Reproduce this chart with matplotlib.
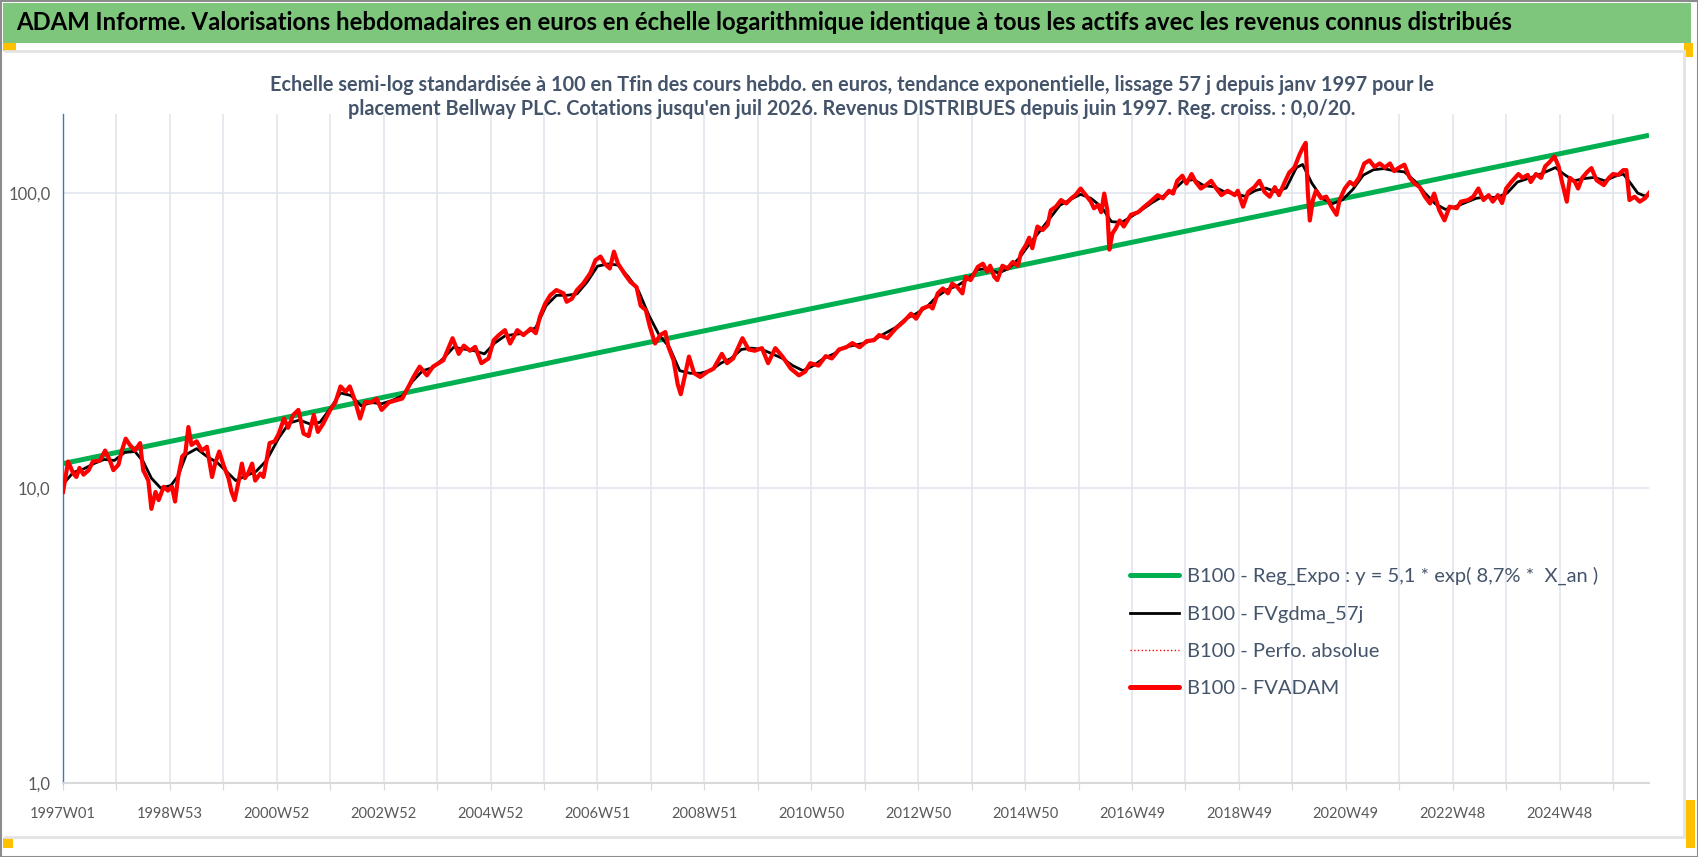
import matplotlib
matplotlib.use('Agg')
import matplotlib.pyplot as plt
from matplotlib.patches import Rectangle
from matplotlib.lines import Line2D

# semaines depuis 1997W01 / valeurs base 100
semaines_fvadam = [0, 5, 10, 13, 16, 20, 25, 29, 36, 41, 46, 49, 54, 57, 61, 65, 70, 75, 78, 83,
                   86, 90, 93, 98, 102, 106, 109, 112, 116, 119, 122, 125, 130, 135, 140, 145, 148, 152, 156, 161,
                   164, 167, 171, 174, 177, 180, 184, 187, 192, 195, 198, 201, 206, 210, 215, 219, 224, 229, 234, 239,
                   244, 248, 253, 260, 265, 270, 275, 279, 284, 289, 294, 300, 305, 310, 317, 323, 330, 336, 341, 347,
                   354, 360, 370, 379, 385, 390, 396, 401, 407, 414, 419, 424, 430, 435, 442, 448, 455, 460, 464, 469,
                   474, 480, 487, 490, 495, 500, 506, 513, 518, 523, 527, 532, 536, 540, 547, 552, 558, 562, 567, 571,
                   576, 581, 586, 589, 594, 598, 601, 605, 609, 614, 620, 627, 633, 641, 646, 652, 661, 667, 673, 680,
                   686, 693, 700, 708, 716, 722, 727, 735, 742, 748, 755, 762, 768, 775, 782, 789, 794, 802, 810, 818,
                   825, 830, 836, 843, 846, 851, 856, 861, 865, 870, 875, 878, 883, 890, 895, 899, 902, 906, 909, 914,
                   919, 924, 929, 932, 937, 940, 943, 948, 953, 958, 961, 966, 971, 976, 981, 985, 990, 995, 1000, 1003,
                   1007, 1010, 1013, 1016, 1018, 1021, 1024, 1028, 1032, 1039, 1046, 1052, 1058, 1065, 1070, 1076, 1080, 1084, 1089, 1093,
                   1098, 1102, 1107, 1112, 1117, 1122, 1127, 1133, 1140, 1143, 1148, 1153, 1159, 1164, 1169, 1174, 1179, 1183, 1188, 1193,
                   1198, 1203, 1206, 1209, 1211, 1213, 1216, 1219, 1224, 1229, 1234, 1239, 1242, 1247, 1252, 1256, 1261, 1266, 1271, 1276,
                   1281, 1286, 1291, 1295, 1300, 1305, 1310, 1315, 1320, 1325, 1330, 1334, 1339, 1344, 1349, 1356, 1360, 1367, 1372, 1377,
                   1382, 1387, 1391, 1396, 1400, 1404, 1409, 1416, 1420, 1425, 1428, 1433, 1438, 1442, 1446, 1451, 1455, 1458, 1463, 1466,
                   1471, 1474, 1478, 1483, 1487, 1492, 1499, 1504, 1508, 1513, 1518, 1521, 1524, 1529, 1534, 1539, 1543]
fvadam = [9.7, 12.3, 11.2, 10.9, 11.7, 11.1, 11.5, 12.3, 12.4, 13.4, 12.3, 11.5, 12.0, 13.3, 14.7, 14.0, 13.4, 14.2, 11.5, 10.6,
          8.5, 9.7, 9.1, 10.1, 9.8, 10.1, 9.0, 10.9, 12.8, 13.1, 16.1, 14.0, 14.4, 13.4, 13.8, 10.9, 12.1, 13.3, 12.0, 10.8,
          9.7, 9.1, 10.6, 12.1, 10.8, 11.2, 12.1, 10.6, 11.2, 10.9, 12.4, 14.2, 14.4, 15.3, 17.2, 16.0, 17.7, 18.4, 15.3, 15.0,
          17.7, 15.5, 16.5, 18.4, 19.5, 22.1, 21.2, 22.1, 19.8, 17.2, 19.6, 19.5, 20.1, 18.4, 19.5, 19.8, 20.1, 22.0, 23.8, 25.8,
          24.1, 25.8, 27.1, 32.2, 28.5, 30.4, 29.2, 30.1, 26.5, 27.5, 31.7, 33.0, 34.3, 30.9, 34.3, 33.0, 34.7, 33.5, 38.1, 42.1,
          45.0, 46.9, 45.7, 42.8, 43.8, 46.9, 49.3, 53.5, 59.2, 60.9, 57.6, 55.5, 63.3, 57.6, 52.8, 50.0, 48.0, 41.5, 40.1, 35.2,
          30.9, 33.0, 33.8, 30.1, 27.1, 22.5, 20.8, 24.0, 27.9, 24.5, 23.8, 24.8, 25.4, 28.5, 26.5, 27.5, 32.2, 29.5, 29.2, 29.8,
          26.5, 29.8, 27.9, 25.4, 24.1, 24.8, 26.5, 26.0, 28.0, 27.5, 29.5, 30.0, 31.0, 30.0, 31.5, 31.7, 33.0, 32.2, 34.7, 36.7,
          39.0, 37.5, 40.6, 41.5, 40.6, 45.7, 47.5, 45.7, 49.3, 48.0, 45.7, 52.0, 50.7, 56.2, 57.6, 54.2, 56.7, 52.0, 50.7, 56.7,
          55.5, 58.4, 56.7, 62.6, 66.8, 70.6, 65.0, 77.0, 74.9, 78.1, 87.4, 89.9, 94.7, 92.2, 96.0, 98.4, 103.6, 98.4, 93.5, 88.8,
          91.0, 86.1, 99.6, 87.4, 64.3, 73.0, 75.7, 80.7, 77.0, 84.4, 86.1, 89.9, 93.5, 98.4, 96.0, 101.8, 99.6, 110.0, 114.5, 107.7,
          116.0, 109.0, 103.6, 106.4, 110.0, 103.6, 98.4, 101.8, 98.4, 101.8, 89.9, 100.8, 104.7, 110.0, 100.8, 97.2, 104.7, 98.4, 107.7, 117.3,
          122.0, 135.0, 142.0, 148.0, 101.8, 80.7, 94.7, 101.8, 96.0, 97.2, 89.9, 84.4, 94.7, 103.6, 109.0, 106.4, 113.0, 126.0, 129.0, 122.7,
          126.0, 122.0, 126.0, 118.7, 122.0, 124.8, 113.0, 107.7, 104.7, 97.2, 92.2, 99.6, 87.4, 80.8, 89.9, 88.8, 93.5, 94.7, 97.2, 103.6,
          94.7, 98.4, 93.5, 98.4, 92.5, 103.6, 109.0, 116.0, 112.6, 115.2, 109.0, 116.0, 112.6, 123.2, 127.0, 133.0, 123.2, 110.5, 93.5, 112.6,
          109.0, 103.6, 112.6, 118.0, 121.5, 110.5, 106.4, 112.6, 116.0, 115.2, 119.6, 119.6, 94.7, 97.2, 93.5, 96.0, 100.0]

semaines_gdma = [0, 10, 20, 30, 40, 50, 60, 70, 78, 86, 95, 105, 112, 120, 130, 140, 150, 160, 168, 178,
                 188, 198, 210, 220, 230, 240, 250, 260, 270, 280, 290, 300, 310, 320, 330, 340, 350, 360, 370, 380,
                 390, 400, 410, 420, 430, 440, 450, 460, 470, 480, 490, 500, 510, 520, 530, 540, 550, 560, 570, 580,
                 590, 600, 610, 620, 630, 640, 650, 660, 670, 680, 690, 700, 710, 720, 730, 740, 750, 760, 770, 780,
                 790, 800, 810, 820, 830, 840, 850, 860, 870, 880, 890, 900, 910, 920, 930, 940, 950, 960, 970, 980,
                 990, 1000, 1010, 1020, 1030, 1040, 1050, 1060, 1070, 1080, 1090, 1100, 1110, 1120, 1130, 1140, 1150, 1160, 1170, 1180,
                 1190, 1200, 1206, 1215, 1225, 1235, 1245, 1255, 1265, 1275, 1285, 1295, 1305, 1315, 1325, 1335, 1345, 1355, 1365, 1375,
                 1385, 1395, 1405, 1415, 1425, 1435, 1445, 1452, 1460, 1470, 1480, 1490, 1500, 1510, 1518, 1525, 1532, 1538, 1543]
fvgdma = [10.3, 11.3, 11.6, 12.1, 12.5, 12.4, 13.2, 13.3, 12.3, 10.8, 10.0, 10.2, 11.0, 13.0, 13.6, 12.8, 12.2, 11.3, 10.6, 11.0,
          11.4, 12.4, 14.8, 16.6, 17.0, 16.5, 16.7, 18.6, 21.0, 20.6, 19.0, 19.5, 19.3, 19.8, 20.5, 23.0, 25.0, 25.6, 27.5, 30.0,
          29.6, 29.2, 28.5, 31.0, 32.8, 33.2, 33.5, 35.0, 41.5, 45.0, 45.0, 45.5, 50.0, 56.5, 57.5, 57.0, 52.0, 46.5, 38.5, 33.0,
          30.0, 25.0, 24.5, 24.5, 25.0, 26.5, 27.5, 29.5, 29.8, 29.5, 28.5, 27.5, 26.0, 25.0, 26.0, 27.5, 28.5, 30.0, 30.5, 31.0,
          32.0, 33.5, 35.0, 37.5, 39.0, 41.0, 44.5, 47.0, 48.5, 51.0, 55.0, 55.5, 53.5, 55.5, 60.0, 67.0, 74.0, 82.0, 91.0, 95.0,
          99.0, 96.0, 90.0, 80.0, 79.5, 83.5, 88.0, 93.0, 97.5, 102.0, 110.0, 111.0, 106.0, 105.0, 101.0, 99.5, 97.5, 102.0, 104.0, 101.0,
          104.0, 122.0, 125.0, 108.0, 96.0, 92.0, 95.0, 103.0, 115.0, 120.0, 121.0, 119.0, 118.0, 110.0, 100.0, 92.0, 88.0, 90.0, 93.0, 96.0,
          97.0, 96.5, 100.0, 109.0, 112.0, 115.0, 119.0, 122.0, 116.0, 110.0, 112.0, 113.0, 110.0, 114.0, 116.0, 108.0, 100.0, 98.0, 98.0]

semaines_reg = [0, 1543]
reg_expo = [12.1, 157.0]

tick_semaines = [0, 104, 208, 312, 416, 520, 624, 728, 832, 936, 1040, 1144, 1248, 1352, 1456]
tick_labels = ['1997W01', '1998W53', '2000W52', '2002W52', '2004W52', '2006W51', '2008W51', '2010W50',
               '2012W50', '2014W50', '2016W49', '2018W49', '2020W49', '2022W48', '2024W48']

titre = ("ADAM Informe. Valorisations hebdomadaires en euros en échelle logarithmique identique "
         "à tous les actifs avec les revenus connus distribués")
sous_titre = ("Echelle semi-log standardisée à 100 en Tfin des cours hebdo. en euros, tendance exponentielle, "
              "lissage 57 j depuis janv 1997 pour le\nplacement Bellway PLC. Cotations jusqu'en juil 2026. "
              "Revenus DISTRIBUES depuis juin 1997. Reg. croiss. : 0,0/20.")
legendes = ['B100 - Reg_Expo : y = 5,1 * exp( 8,7% *  X_an )', 'B100 - FVgdma_57j',
            'B100 - Perfo. absolue', 'B100 - FVADAM']

plt.rcParams['font.family'] = ['Lato', 'DejaVu Sans']

W, H = 1698, 857
fig = plt.figure(figsize=(W / 100, H / 100), dpi=100)

# cadre, bandeau vert et poignées jaunes
fig.patches.append(Rectangle((0.5 / W, 0.5 / H), (W - 1) / W, (H - 1) / H, transform=fig.transFigure,
                             fill=False, edgecolor='#8c8c8c', lw=1.5))
fig.patches.append(Rectangle((3 / W, (H - 43) / H), 1688 / W, 40 / H, transform=fig.transFigure,
                             facecolor='#7dc67c', edgecolor='none'))
fig.add_artist(Line2D([5 / W, 1684 / W], [(H - 51) / H] * 2, color='#e3e3e3', lw=2))
fig.add_artist(Line2D([5 / W, 1684 / W], [(H - 837) / H] * 2, color='#e3e3e3', lw=2))
fig.add_artist(Line2D([1684 / W, 1684 / W], [(H - 837) / H, (H - 51) / H], color='#e3e3e3', lw=2))
for x0, y0, w0, h0 in [(3, 43, 13, 8), (1684, 43, 9, 14), (3, 838, 10, 10), (1686, 800, 9, 48)]:
    fig.patches.append(Rectangle((x0 / W, (H - y0 - h0) / H), w0 / W, h0 / H, transform=fig.transFigure,
                                 facecolor='#ffc000', edgecolor='none'))

fig.text(16 / W, (H - 23) / H, titre, fontsize=17.2, fontweight='bold', color='black', va='center', ha='left')
fig.text(852 / W, (H - 97) / H, sous_titre, fontsize=14.3, fontweight='bold', color='#44546a',
         ha='center', va='center', linespacing=1.3)

ax = fig.add_axes([63 / W, (H - 783) / H, (1649 - 63) / W, (783 - 114) / H])
ax.set_yscale('log')
ax.set_ylim(1, 10 ** 2.268)
ax.set_xlim(0, 1543)

ax.plot(semaines_reg, reg_expo, color='#00b050', lw=3.6, solid_capstyle='butt', zorder=3)
ax.plot(semaines_gdma, fvgdma, color='black', lw=2.0, zorder=4)
ax.plot(semaines_fvadam, fvadam, color='red', lw=1.0, ls=':', zorder=4.5)
ax.plot(semaines_fvadam, fvadam, color='red', lw=3.0, zorder=5)

ax.set_yticks([1, 10, 100])
ax.set_yticklabels(['1,0', '10,0', '100,0'])
ax.yaxis.set_minor_locator(matplotlib.ticker.NullLocator())
ax.set_xticks(range(0, 1544, 52))
ax.set_xticklabels([tick_labels[tick_semaines.index(s)] if s in tick_semaines else '' for s in range(0, 1544, 52)])
ax.tick_params(axis='x', length=5, color='#d9d9d9', labelsize=10.5, labelcolor='#595959', pad=12)
ax.tick_params(axis='y', length=0, labelsize=12, labelcolor='#595959', pad=9)
ax.grid(True, axis='both', which='major', color='#e1e5ec', lw=1.2, zorder=0)
ax.set_axisbelow(True)
for s in ['top', 'right']:
    ax.spines[s].set_visible(False)
ax.spines['left'].set_color('#4472c4')
ax.spines['left'].set_linewidth(1.0)
ax.spines['bottom'].set_color('#d9d9d9')
ax.spines['bottom'].set_linewidth(1.5)

poignees = [Line2D([], [], color='#00b050', lw=3.6, solid_capstyle='round'),
            Line2D([], [], color='black', lw=2.0),
            Line2D([], [], color='red', lw=1.0, ls=':'),
            Line2D([], [], color='red', lw=3.6, solid_capstyle='round')]
leg = fig.legend(poignees, legendes, loc='upper left', bbox_to_anchor=(1130 / W, (H - 567) / H),
                 frameon=False, fontsize=14.5, labelspacing=1.0, handlelength=2.42, handletextpad=0.4,
                 borderpad=0, borderaxespad=0)
for t in leg.get_texts():
    t.set_color('#44546a')

fig.savefig('out.png', dpi=100)
